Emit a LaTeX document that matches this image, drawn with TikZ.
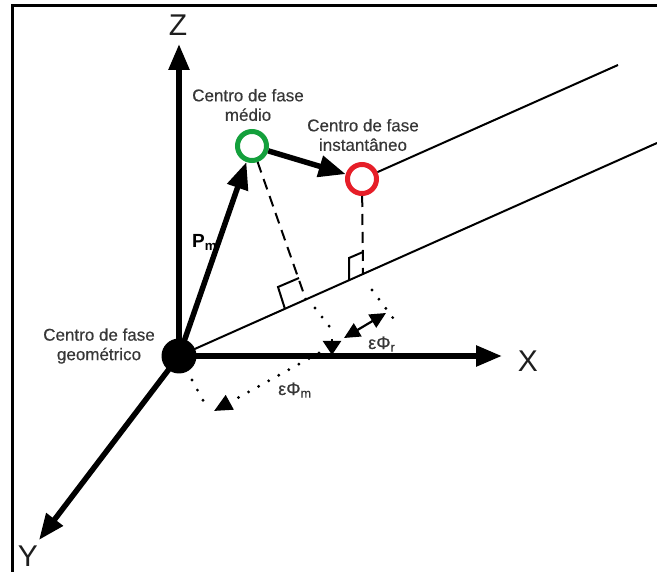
\documentclass[tikz,border=0pt]{standalone}
\usepackage{fontspec}
\setmainfont{Liberation Sans}
\newfontfamily\lblfont[FakeBold=0.5]{Liberation Sans}
\usetikzlibrary{arrows.meta}
\definecolor{txtgrey}{RGB}{55,55,55}
\definecolor{axgrey}{RGB}{30,30,30}
\definecolor{ringgreen}{RGB}{20,160,60}
\definecolor{ringred}{RGB}{230,30,40}
\tikzset{
  axis/.style={line width=5.5pt,-{Triangle[length=26pt,width=20pt]}},
  bigarrow/.style={line width=5.5pt,-{Triangle[length=27pt,width=21pt]}},
  thinline/.style={line width=2pt},
  dashline/.style={line width=2pt,dash pattern=on 11pt off 7pt},
  dotline/.style={line width=3.2pt,line cap=round,dash pattern=on 0pt off 11.5pt},
  label/.style={text=txtgrey,font=\lblfont\fontsize{17}{19.5}\selectfont,align=center,inner sep=0pt},
  axlabel/.style={text=axgrey,font=\fontsize{30}{30}\selectfont,inner sep=0pt},
  eps/.style={text=txtgrey,font=\lblfont\fontsize{18}{18}\selectfont,inner sep=0pt},
  ring/.style={circle,line width=5pt,minimum size=29pt,inner sep=0pt},
}
\begin{document}
\begin{tikzpicture}[x=1pt,y=-1pt]
\useasboundingbox (0,0) rectangle (657,572);
% border
\draw[line width=3pt] (12,572) -- (12,6) -- (657,6);
% key points
\coordinate (O) at (179,356);
\coordinate (Ztip) at (179,44);
\coordinate (Xtip) at (502,356);
\coordinate (Ytip) at (39,540);
\coordinate (Lend) at (657,143);
\coordinate (Uend) at (618,65);
% labels
\node[axlabel] (zl) at (178,25) {Z};
\node[axlabel] (xl) at (528,361) {X};
\node[axlabel] (yl) at (28,556) {Y};
\node[label] (lm) at (248,105) {Centro de fase\\médio};
\node[label] (li) at (363,135) {Centro de fase\\instantâneo};
\node[label] (lg) at (99,346) {Centro de fase\\geométrico};
\node[inner sep=0pt,anchor=base west,font=\fontsize{19}{19}\selectfont\bfseries] (pm) at (192,248) {P\textsubscript{m}};
\node[eps,anchor=base west] (em) at (278,395) {εΦ\textsubscript{m}};
\node[eps,anchor=base west] (er) at (368,349) {εΦ\textsubscript{r}};
% rings
\node[ring,draw=ringgreen] (G) at (252,146) {};
\node[ring,draw=ringred] (R) at (362,179) {};
% thin parallel lines
\draw[thinline] (O) -- (Lend);
\draw[thinline] (R) -- (Uend);
% dashed projections
\coordinate (gI) at (306,300);
\coordinate (rI) at (363,274);
\draw[dashline] (G) -- (gI);
\draw[dashline] (R) -- (rI);
% right angle marks
\coordinate (ga) at (285,309);
\coordinate (gb) at (278,287);
\coordinate (gc) at (299,278);
\draw[thinline] (ga) -- (gb) -- (gc);
\coordinate (ra) at (349,280);
\coordinate (rb) at (349,258);
\coordinate (rc) at (363,252);
\draw[thinline] (ra) -- (rb) -- (rc);
% dotted continuations
\coordinate (gd1) at (315,308);
\coordinate (gd2) at (336,335);
\draw[dotline] (gd1) -- (gd2);
\coordinate (rd1) at (372,290);
\coordinate (rd2) at (399,326);
\draw[dotline] (rd1) -- (rd2);
% epsilon phi r double arrow
\coordinate (ea) at (344,338);
\coordinate (eb) at (386,313);
\draw[line width=2.2pt,{Triangle[length=16pt,width=15pt]}-{Triangle[length=16pt,width=15pt]}] (ea) -- (eb);
\coordinate (da) at (332,339);
\coordinate (db) at (332,355);
\draw[line width=2pt,-{Triangle[length=14pt,width=18pt]}] (da) -- (db);
% epsilon phi m dotted arrow
\coordinate (ma) at (319,353);
\coordinate (mb) at (214,411);
\draw[dotline,-{Triangle[length=18pt,width=16pt]}] (ma) -- (mb);
\coordinate (sa) at (192,380);
\coordinate (sb) at (205,404);
\draw[dotline] (sa) -- (sb);
% axes
\draw[axis] (O) -- (Ztip);
\draw[axis] (O) -- (Xtip);
\draw[axis] (O) -- (Ytip);
% vectors
\draw[bigarrow] (O) -- (G);
\draw[bigarrow] (G) -- (R);
% origin dot
\fill (O) circle (17.5pt);
\end{tikzpicture}
\end{document}
